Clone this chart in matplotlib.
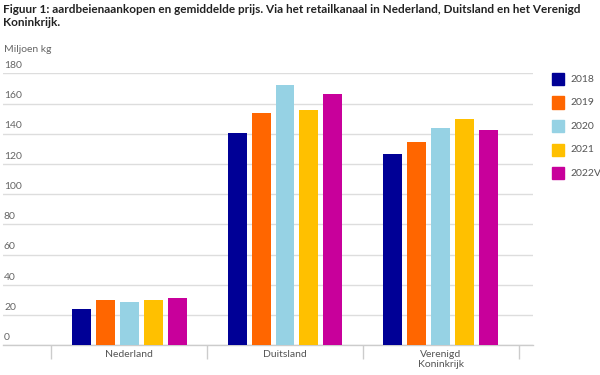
import numpy as np
import matplotlib
matplotlib.use("Agg")
import matplotlib.pyplot as plt
from matplotlib.transforms import blended_transform_factory
from matplotlib.patches import Rectangle

plt.rcParams["font.family"] = ["Lato", "DejaVu Sans"]

landen = ["Nederland", "Duitsland", "Verenigd\nKoninkrijk"]
jaren = ["2018", "2019", "2020", "2021", "2022V"]
waarden = {
    "2018": [23.8, 140.7, 126.6],
    "2019": [30.0, 153.7, 134.8],
    "2020": [28.5, 172.5, 143.8],
    "2021": [30.0, 155.5, 150.0],
    "2022V": [31.1, 166.5, 142.5],
}
kleuren = ["#000096", "#ff6600", "#96d2e4", "#ffc000", "#c8009b"]
yticks = list(range(0, 181, 20))

fig = plt.figure(figsize=(6, 3.75), dpi=100)
ax = fig.add_axes([3 / 600, 29.7 / 375, 530 / 600, 272 / 375])

x = np.arange(len(landen))
pitch = 24 / 156
breedte = 19 / 156
for i, (jaar, kleur) in enumerate(zip(jaren, kleuren)):
    ax.bar(x + (i - 2) * pitch, waarden[jaar], width=breedte, color=kleur, zorder=3)

ax.set_xlim(-0.808, 2.59)
ax.set_ylim(0, 180)
for s in ["top", "right", "left"]:
    ax.spines[s].set_visible(False)
ax.spines["bottom"].set_color("#cccccc")
ax.spines["bottom"].set_linewidth(1)
ax.set_yticks(yticks)
ax.tick_params(axis="y", length=0, labelleft=False)
ax.grid(axis="y", color="#dddddd", linewidth=1, zorder=0)

# categorie-scheidingen
ax.set_xticks([-0.5, 0.5, 1.5, 2.5])
ax.set_xticklabels([])
ax.tick_params(axis="x", length=10, color="#cccccc", width=1)
for xi, naam in zip(x, landen):
    ax.text(xi, -3.2, naam, ha="center", va="top", fontsize=7.5, color="#555555",
            linespacing=1.1)

# y-labels boven de rasterlijnen
tr = blended_transform_factory(fig.transFigure, ax.transData)
for v in yticks:
    ax.text(4 / 600, v + 2.2, str(v), transform=tr, fontsize=7.5, color="#666666",
            ha="left", va="bottom")

fig.text(4 / 600, 1 - 50 / 375, "Miljoen kg", fontsize=7.5, color="#666666",
         ha="left", va="center")
fig.text(3 / 600, 1 - 4 / 375,
         "Figuur 1: aardbeienaankopen en gemiddelde prijs. Via het retailkanaal in Nederland, Duitsland en het Verenigd\nKoninkrijk.",
         fontsize=8.5, fontweight="bold", color="#222222", ha="left", va="top",
         linespacing=1.2)

# legenda
for i, (jaar, kleur) in enumerate(zip(jaren, kleuren)):
    yc = 79 + i * 23.5
    fig.patches.append(Rectangle((552 / 600, 1 - (yc + 6) / 375), 12 / 600, 12 / 375,
                                 transform=fig.transFigure, color=kleur))
    fig.text(570 / 600, 1 - yc / 375, jaar, fontsize=7.5, color="#555555",
             ha="left", va="center")

fig.savefig("out.png", dpi=100)
